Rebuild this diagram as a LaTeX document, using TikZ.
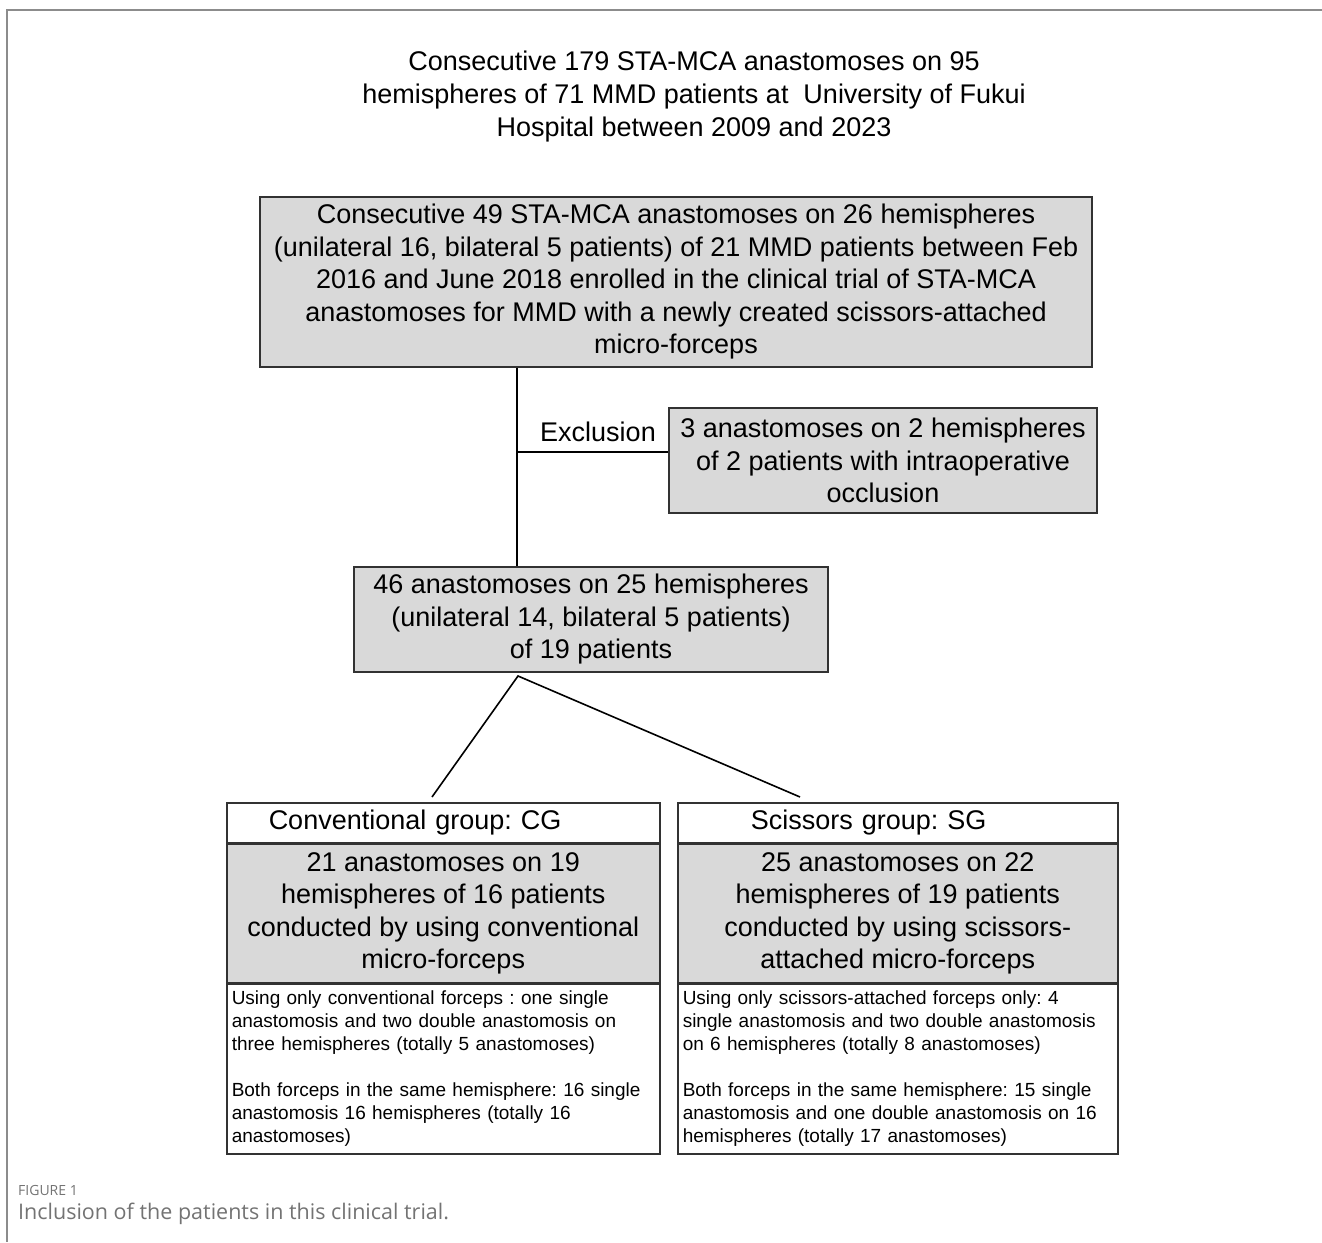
\documentclass[tikz,border=0pt]{standalone}
\usepackage{fontspec}
\setmainfont{Liberation Sans}
\newfontfamily\capfont{Open Sans}
\usetikzlibrary{positioning}
\definecolor{boxgray}{RGB}{217,217,217}
\definecolor{boxline}{RGB}{50,50,50}
\definecolor{framegray}{RGB}{140,140,140}
\definecolor{capgray}{RGB}{115,115,115}
\newcommand{\bigtext}{\fontsize{27}{32.5}\selectfont}
\newcommand{\smalltext}{\fontsize{19}{23}\selectfont}
\frenchspacing
\tikzset{
  flowbox/.style={draw=boxline, line width=1.5pt, fill=boxgray, align=center, inner sep=0pt, font=\bigtext},
  headbox/.style={draw=boxline, line width=1.5pt, fill=white, align=left, inner ysep=0pt, minimum height=40pt, font=\bigtext},
  notebox/.style={draw=boxline, line width=1.5pt, fill=white, align=left, inner xsep=5pt, inner ysep=0pt, minimum height=170pt, font=\smalltext},
  link/.style={line width=1.6pt, black},
}
\begin{document}
\begin{tikzpicture}[x=1pt, y=-1pt]
      \useasboundingbox (0,0) rectangle (1322,1242);
      \draw[framegray, line width=1.5pt] (1322,10) -- (7,10) -- (7,1242);

      \node (title) at (694,97) [align=center, font=\fontsize{27}{33}\selectfont] {Consecutive 179 STA-MCA anastomoses on 95\\ hemispheres of 71 MMD patients at~ University of Fukui\\ Hospital between 2009 and 2023};
      \node (enrolled) [flowbox, minimum width=832pt, minimum height=170pt] at (676,282) {Consecutive 49 STA-MCA anastomoses on 26 hemispheres\\ (unilateral 16, bilateral 5 patients) of 21 MMD patients between Feb\\ 2016 and June 2018 enrolled in the clinical trial of STA-MCA\\ anastomoses for MMD with a newly created scissors-attached\\ micro-forceps};
      \node (excl) [flowbox, minimum width=428pt, minimum height=105pt] at (883,460.5) {3 anastomoses on 2 hemispheres\\ of 2 patients with intraoperative\\ occlusion};
      \node (exlabel) at (598,432) [font=\bigtext] {Exclusion};
      \node (remain) [flowbox, minimum width=474pt, minimum height=105pt] at (591,619.5) {46 anastomoses on 25 hemispheres\\ (unilateral 14, bilateral 5 patients)\\ of 19 patients};

      \node (cghead) [headbox, anchor=north west, inner xsep=42pt, text width=349pt] at (226,802) {Conventional group: CG};
      \node (cgbody) [flowbox, below=0pt of cghead, minimum width=433pt, minimum height=138pt] {21 anastomoses on 19\\ hemispheres of 16 patients\\ conducted by using conventional\\ micro-forceps};
      \node (cgnote) [notebox, below=0pt of cgbody, text width=423pt] {Using only conventional forceps : one single\\ anastomosis and two double anastomosis on\\ three hemispheres (totally 5 anastomoses)\\[23pt] Both forceps in the same hemisphere: 16 single\\ anastomosis 16 hemispheres (totally 16\\ anastomoses)};

      \node (sghead) [headbox, anchor=north west, inner xsep=73pt, text width=294pt] at (677,802) {Scissors group: SG};
      \node (sgbody) [flowbox, below=0pt of sghead, minimum width=440pt, minimum height=138pt] {25 anastomoses on 22\\ hemispheres of 19 patients\\ conducted by using scissors-\\ attached micro-forceps};
      \node (sgnote) [notebox, below=0pt of sgbody, text width=430pt] {Using only scissors-attached forceps only: 4\\ single anastomosis and two double anastomosis\\ on 6 hemispheres (totally 8 anastomoses)\\[23pt] Both forceps in the same hemisphere: 15 single\\ anastomosis and one double anastomosis on 16\\ hemispheres (totally 17 anastomoses)};

      \coordinate (trunk) at (517,452);
      \coordinate (apex) at (518,676);
      \coordinate (cgend) at (432,797);
      \coordinate (sgend) at (800,797);
      \draw[link] (enrolled.south -| trunk) -- (remain.north -| trunk);
      \draw[link] (trunk) -- (trunk -| excl.west);
      \draw[link] (cgend) -- (apex) -- (sgend);

      \node (figno) [anchor=west, inner sep=0pt, text=capgray, font=\capfont\fontsize{14}{16}\selectfont] at (18,1190) {FIGURE 1};
      \node (caption) [anchor=west, inner sep=0pt, text=capgray, font=\capfont\fontsize{21.5}{24}\selectfont] at (18,1214) {Inclusion of the patients in this clinical trial.};
    \end{tikzpicture}
\end{document}
